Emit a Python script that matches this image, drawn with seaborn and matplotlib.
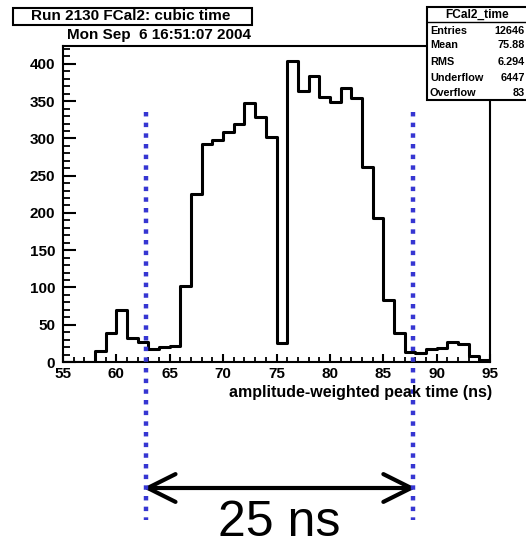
import numpy as np
import pandas as pd
import seaborn as sns
import matplotlib
matplotlib.use("Agg")
import matplotlib.pyplot as plt
from matplotlib.patches import Rectangle
from matplotlib.lines import Line2D
from matplotlib.ticker import MultipleLocator
import matplotlib.transforms as mtrans

# ---------------- data ----------------
bin_edges = list(range(55, 96))
counts = [0, 0, 0, 15, 39, 70, 32, 27, 17, 20,
          22, 102, 226, 293, 298, 309, 320, 347, 329, 302,
          25, 404, 364, 384, 356, 349, 367, 354, 261, 193,
          83, 39, 14, 12, 18, 19, 27, 24, 8, 3]
window_edges = [62.8, 87.75]
window_label = "25 ns"
title = "Run 2130 FCal2: cubic time"
date_text = "Mon Sep  6 16:51:07 2004"
xlabel = "amplitude-weighted peak time (ns)"
stats_title = "FCal2_time"
stats_names = ["Entries", "Mean", "RMS", "Underflow", "Overflow"]
stats_values = ["12646", "75.88", "6.294", "6447", "83"]

centers = [(bin_edges[i] + bin_edges[i + 1]) / 2 for i in range(len(counts))]
df = pd.DataFrame({"t": centers, "n": counts})

# ---------------- style ----------------
sns.set_style("white")
plt.rcParams["font.family"] = ["Liberation Sans", "DejaVu Sans"]
plt.rcParams.update({"text.color": "black", "axes.labelcolor": "black",
                     "xtick.color": "black", "ytick.color": "black"})

W, H = 526, 547
fig = plt.figure(figsize=(W / 100, H / 100), dpi=100)
ax = fig.add_axes([63 / W, 1 - 362 / H, (490 - 63) / W, (362 - 46) / H])

sns.histplot(data=df, x="t", weights="n", bins=bin_edges, element="step",
             fill=False, color="black", linewidth=2.2, ax=ax)

ax.set_xlim(55, 95)
ax.set_ylim(0, 424)
ax.set_xlabel("")
ax.set_ylabel("")
for s in ax.spines.values():
    s.set_linewidth(1.5)
    s.set_color("black")

ax.xaxis.set_major_locator(MultipleLocator(5))
ax.xaxis.set_minor_locator(MultipleLocator(1))
ax.yaxis.set_major_locator(MultipleLocator(50))
ax.yaxis.set_minor_locator(MultipleLocator(10))
ax.tick_params(axis="y", which="major", direction="in", length=9, width=1.5,
               labelsize=11, pad=5.5, left=True)
ax.tick_params(axis="y", which="minor", direction="in", length=5, width=1.3, left=True)
ax.tick_params(axis="x", which="major", direction="in", length=6, width=1.5,
               labelsize=11, pad=3.5, bottom=True)
ax.tick_params(axis="x", which="minor", direction="in", length=3.5, width=1.3, bottom=True)
for lab in ax.get_xticklabels() + ax.get_yticklabels():
    lab.set_fontweight("bold")

# x label (right aligned under axis)
fig.text(492 / W, 1 - 393 / H, xlabel, ha="right", va="center",
         fontsize=11.5, fontweight="bold")

# title box
fig.add_artist(Rectangle((13 / W, 1 - 25 / H), (252 - 13) / W, 17 / H,
                         transform=fig.transFigure, facecolor="white",
                         edgecolor="black", linewidth=1.5, zorder=3))
fig.text(131 / W, 1 - 16.5 / H, title, ha="center", va="center",
         fontsize=11, fontweight="bold", zorder=4)
fig.text(251 / W, 1 - 35.5 / H, date_text, ha="right", va="center",
         fontsize=11, fontweight="bold", zorder=4)

# stats box
fig.add_artist(Rectangle((427 / W, 1 - 100 / H), (540 - 427) / W, 93 / H,
                         transform=fig.transFigure, facecolor="white",
                         edgecolor="black", linewidth=1.5, zorder=3))
fig.add_artist(Line2D([427 / W, 1.0], [1 - 22 / H, 1 - 22 / H],
                      transform=fig.transFigure, color="black", linewidth=1.0, zorder=4))
fig.text(477 / W, 1 - 14.5 / H, stats_title, ha="center", va="center",
         fontsize=8.6, fontweight="bold", zorder=4)
row_y = [31, 45, 62, 78, 93]
for name, val, yy in zip(stats_names, stats_values, row_y):
    fig.text(430 / W, 1 - yy / H, name, ha="left", va="center",
             fontsize=7.8, fontweight="bold", zorder=4)
    fig.text(525 / W, 1 - yy / H, val, ha="right", va="center",
             fontsize=7.8, fontweight="bold", zorder=4)

# dotted window lines, arrow, label
blend = mtrans.blended_transform_factory(ax.transData, fig.transFigure)
for xe in window_edges:
    ax.plot([xe, xe], [1 - 112 / H, 1 - 520 / H], transform=blend,
            color="#3636d2", linewidth=3.2, linestyle=(0, (1, 1.4)),
            dash_capstyle="butt", clip_on=False, zorder=5)

ax.annotate("", xy=(window_edges[0] - 0.3, 1 - 488 / H), xycoords=blend,
            xytext=(window_edges[1] + 0.3, 1 - 488 / H), textcoords=blend,
            arrowprops=dict(arrowstyle="<->,head_length=2.0,head_width=1.0",
                            color="black", linewidth=3.0,
                            shrinkA=0, shrinkB=0),
            annotation_clip=False)
ax.text(np.mean(window_edges), 1 - 536 / H, window_label, transform=blend,
        ha="center", va="baseline", fontsize=36, color="black", clip_on=False)

fig.savefig("out.png", dpi=100)
